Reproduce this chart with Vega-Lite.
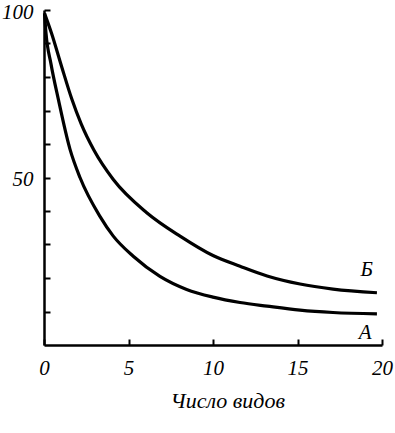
{
  "$schema": "https://vega.github.io/schema/vega-lite/v6.json",
  "width": 338,
  "height": 335,
  "autosize": {"type": "none"},
  "padding": {"left": 44, "top": 10, "right": 13, "bottom": 88},
  "background": "white",
  "config": {
    "view": {"stroke": null},
    "axis": {
      "grid": false,
      "domainColor": "black",
      "domainWidth": 2.5,
      "tickColor": "black",
      "tickWidth": 2,
      "labelOverlap": false,
      "labelFlush": false,
      "labelBound": false,
      "labelFont": "Liberation Serif",
      "labelFontStyle": "italic",
      "labelFontSize": 21,
      "labelColor": "black",
      "titleFont": "Liberation Serif",
      "titleFontStyle": "italic",
      "titleFontWeight": "normal",
      "titleFontSize": 22,
      "titleColor": "black"
    }
  },
  "datasets": {
    "curves": [
      {"series": "A", "x": 0.03, "y": 99},
      {"series": "A", "x": 0.12, "y": 93},
      {"series": "A", "x": 0.41, "y": 84},
      {"series": "A", "x": 0.85, "y": 73.3},
      {"series": "A", "x": 1.54, "y": 58.4},
      {"series": "A", "x": 2.13, "y": 50},
      {"series": "A", "x": 3.31, "y": 38.4},
      {"series": "A", "x": 4.1, "y": 32.5},
      {"series": "A", "x": 5.28, "y": 26.5},
      {"series": "A", "x": 6.86, "y": 20.5},
      {"series": "A", "x": 8.44, "y": 16.6},
      {"series": "A", "x": 10, "y": 14.3},
      {"series": "A", "x": 11.6, "y": 12.7},
      {"series": "A", "x": 13.2, "y": 11.6},
      {"series": "A", "x": 15.15, "y": 10.4},
      {"series": "A", "x": 17.1, "y": 9.7},
      {"series": "A", "x": 19.7, "y": 9.3},
      {"series": "B", "x": 0.03, "y": 99},
      {"series": "B", "x": 0.45, "y": 93},
      {"series": "B", "x": 1.05, "y": 83},
      {"series": "B", "x": 1.64, "y": 73.5},
      {"series": "B", "x": 2.2, "y": 66},
      {"series": "B", "x": 2.95, "y": 58.2},
      {"series": "B", "x": 4.1, "y": 49.4},
      {"series": "B", "x": 6.08, "y": 39.5},
      {"series": "B", "x": 8.05, "y": 32.5},
      {"series": "B", "x": 10, "y": 26.7},
      {"series": "B", "x": 11.6, "y": 23.5},
      {"series": "B", "x": 13.2, "y": 20.6},
      {"series": "B", "x": 15.15, "y": 18.2},
      {"series": "B", "x": 17.1, "y": 16.7},
      {"series": "B", "x": 19.7, "y": 15.6}
    ],
    "labels": [
      {"label": "Б", "x": 19.1, "y": 22.3},
      {"label": "А", "x": 19.0, "y": 3.6}
    ]
  },
  "layer": [
    {
      "data": {"name": "curves"},
      "mark": {"type": "line", "color": "black", "strokeWidth": 3.2, "interpolate": "monotone"},
      "encoding": {
        "x": {
          "field": "x", "type": "quantitative",
          "scale": {"domain": [0, 20], "nice": false},
          "axis": {"values": [0, 5, 10, 15, 20], "tickCount": 20, "tickSize": -6, "labelPadding": 18, "title": "Число видов", "titlePadding": 12, "titleAnchor": "start", "titleX": 126}
        },
        "y": {
          "field": "y", "type": "quantitative",
          "scale": {"domain": [0, 100], "nice": false},
          "axis": {"values": [10, 20, 30, 40, 50, 60, 70, 80, 90, 100], "tickCount": 20, "tickSize": -6, "labelPadding": 17, "labelOffset": 2, "labelExpr": "datum.value == 50 || datum.value == 100 ? datum.label : ''", "title": null}
        },
        "detail": {"field": "series"}
      }
    },
    {
      "data": {"name": "labels"},
      "mark": {"type": "text", "font": "Liberation Serif", "fontStyle": "italic", "fontSize": 21, "color": "black"},
      "encoding": {
        "x": {"field": "x", "type": "quantitative"},
        "y": {"field": "y", "type": "quantitative"},
        "text": {"field": "label"}
      }
    }
  ]
}
